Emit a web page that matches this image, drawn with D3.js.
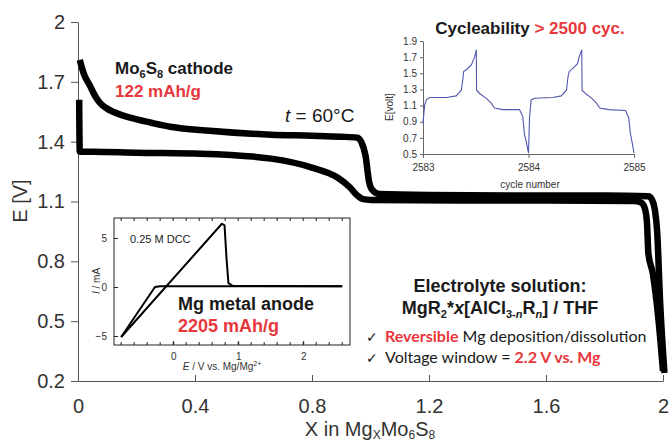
<!DOCTYPE html>
<html>
<head>
<meta charset="utf-8">
<script src="https://cdn.jsdelivr.net/npm/d3@7"></script>
<style>
  body { margin: 0; background: #fff; }
  svg { display: block; }
</style>
</head>
<body>
<div id="chart"></div>
<script>
// main plot: E [V] vs x in MgxMo6S8
var upperCurve = [[0.006,1.81],[0.02,1.74],[0.041,1.68],[0.06,1.625],[0.075,1.595],[0.095,1.57],[0.12,1.55],
    [0.15,1.533],[0.178,1.52],[0.25,1.495],[0.315,1.475],[0.45,1.455],[0.66,1.435],[0.8,1.43],[0.9,1.425],
    [0.955,1.42],[0.968,1.40],[0.983,1.33],[0.995,1.2],[1.005,1.16],[1.03,1.137],[1.2,1.132],[1.5,1.13],
    [1.8,1.13],[1.95,1.126],[1.962,1.11],[1.972,1.06],[1.98,0.95],[1.99,0.6],[2.005,0.24]];
var lowerCurve = [[0.004,1.61],[0.006,1.35],[0.05,1.35],[0.2,1.345],[0.42,1.34],[0.66,1.315],[0.8,1.27],
    [0.887,1.22],[0.93,1.17],[0.955,1.13],[0.975,1.112],[1.0,1.108],[1.3,1.105],[1.6,1.105],[1.9,1.102],
    [1.925,1.095],[1.937,1.07],[1.945,1.0],[1.95,0.84],[1.965,0.74],[1.985,0.5],[2.0,0.25]];
var xTicks = [0, 0.4, 0.8, 1.2, 1.6, 2];
var yTicks = [0.2, 0.5, 0.8, 1.1, 1.4, 1.7, 2];

// cycling inset: cycle number vs E[volt]
var cycleCurve = [[2583.0,0.88],[2583.016,1.11],[2583.032,1.17],[2583.063,1.2],[2583.221,1.2],[2583.315,1.22],
    [2583.363,1.29],[2583.379,1.44],[2583.385,1.52],[2583.416,1.55],[2583.457,1.6],[2583.489,1.7],[2583.505,1.79],
    [2583.508,1.29],[2583.536,1.25],[2583.599,1.19],[2583.647,1.13],[2583.678,1.07],[2583.757,1.05],
    [2583.915,1.05],[2583.946,0.96],[2583.962,0.74],[2583.978,0.66],[2584.0,0.51],
    [2584.01,0.96],[2584.025,1.17],[2584.057,1.19],[2584.23,1.2],[2584.31,1.22],[2584.36,1.29],[2584.375,1.46],
    [2584.385,1.52],[2584.42,1.56],[2584.465,1.62],[2584.48,1.7],[2584.505,1.79],[2584.508,1.29],
    [2584.54,1.25],[2584.6,1.19],[2584.645,1.13],[2584.675,1.07],[2584.76,1.05],[2584.92,1.04],
    [2584.95,0.95],[2584.965,0.76],[2584.98,0.66],[2585.0,0.51]];
var cycleXTicks = [2583, 2584, 2585];
var cycleYTicks = [0.5, 0.7, 0.9, 1.1, 1.3, 1.5, 1.7, 1.9];

// CV inset: E / V vs I / mA
var cvPeakBranch = [[-0.8,-5.1],[0.75,6.45],[0.79,6.3],[0.82,3.0],[0.85,0.4],[0.92,0.1],[2.6,0.08]];
var cvFlatBranch = [[-0.8,-5.1],[-0.28,0.0],[-0.2,0.08],[2.6,0.08]];
var cvXTicks = [0, 1, 2];
var cvYTicks = [-5, 0, 5];

var width = 669, height = 444;
var red = "#e8373b";

var svg = d3.select("#chart").append("svg")
    .attr("width", width)
    .attr("height", height)
    .style("font-family", "Liberation Sans, Arial, sans-serif");

// ---------- main axes ----------
var x = d3.scaleLinear().domain([0, 2]).range([78, 663]);
var y = d3.scaleLinear().domain([0.2, 2]).range([381, 22]);

var yAxis = svg.append("g")
    .attr("transform", "translate(78,0)")
    .call(d3.axisLeft(y).tickValues(yTicks).tickSize(7).tickSizeOuter(0).tickPadding(6).tickFormat(function(d) { return String(d); }));
var xAxis = svg.append("g")
    .attr("transform", "translate(0,381)")
    .call(d3.axisBottom(x).tickValues(xTicks).tickSize(-6).tickSizeOuter(0).tickPadding(18).tickFormat(function(d) { return String(d); }));
[xAxis, yAxis].forEach(function(a) {
    a.selectAll("path,line").attr("stroke", "#555");
    a.selectAll("text").attr("fill", "#333").style("font-size", "20px");
});

svg.append("text")
    .attr("transform", "translate(27,201) rotate(-90)")
    .attr("text-anchor", "middle")
    .style("font-size", "20px").attr("fill", "#333")
    .text("E [V]");

var xl = svg.append("text")
    .attr("x", 370).attr("y", 436)
    .attr("text-anchor", "middle")
    .style("font-size", "20px").attr("fill", "#333");
xl.append("tspan").text("X in Mg");
xl.append("tspan").attr("dy", 3).style("font-size", "12px").text("X");
xl.append("tspan").attr("dy", -3).text("Mo");
xl.append("tspan").attr("dy", 3).style("font-size", "12px").text("6");
xl.append("tspan").attr("dy", -3).text("S");
xl.append("tspan").attr("dy", 3).style("font-size", "12px").text("8");

var line = d3.line()
    .x(function(d) { return x(d[0]); })
    .y(function(d) { return y(d[1]); })
    .curve(d3.curveMonotoneX);

svg.selectAll(".main-curve")
    .data([upperCurve, lowerCurve])
    .enter().append("path")
    .attr("class", "main-curve")
    .attr("d", line)
    .attr("fill", "none")
    .attr("stroke", "#000")
    .attr("stroke-width", 6.5)
    .attr("stroke-linejoin", "round");

// cathode label
var cat = svg.append("text").attr("x", 115).attr("y", 74)
    .style("font-size", "17px").style("font-weight", "bold").attr("fill", "#1a1a1a");
cat.append("tspan").text("Mo");
cat.append("tspan").attr("dy", 4).style("font-size", "11px").text("6");
cat.append("tspan").attr("dy", -4).text("S");
cat.append("tspan").attr("dy", 4).style("font-size", "11px").text("8");
cat.append("tspan").attr("dy", -4).text(" cathode");
svg.append("text").attr("x", 115).attr("y", 97)
    .style("font-size", "17px").style("font-weight", "bold").attr("fill", red)
    .text("122 mAh/g");

var temp = svg.append("text").attr("x", 285).attr("y", 122)
    .style("font-size", "19px").attr("fill", "#1a1a1a");
temp.append("tspan").style("font-style", "italic").text("t");
temp.append("tspan").text(" = 60°C");

// electrolyte text
svg.append("text").attr("x", 500).attr("y", 292).attr("text-anchor", "middle")
    .style("font-size", "18px").style("font-weight", "bold").attr("fill", "#1a1a1a")
    .text("Electrolyte solution:");
var el = svg.append("text").attr("x", 500).attr("y", 314).attr("text-anchor", "middle")
    .style("font-size", "18px").style("font-weight", "bold").attr("fill", "#1a1a1a");
el.append("tspan").text("MgR");
el.append("tspan").attr("dy", 4).style("font-size", "11px").text("2");
el.append("tspan").attr("dy", -4).text("*");
el.append("tspan").style("font-style", "italic").text("x");
el.append("tspan").text("[AlCl");
el.append("tspan").attr("dy", 4).style("font-size", "11px").text("3-");
el.append("tspan").style("font-size", "11px").style("font-style", "italic").text("n");
el.append("tspan").attr("dy", -4).text("R");
el.append("tspan").attr("dy", 4).style("font-size", "11px").style("font-style", "italic").text("n");
el.append("tspan").attr("dy", -4).text("] / THF");

var bullets = [
    [["Reversible", true], [" Mg deposition/dissolution", false]],
    [["Voltage window = ", false], ["2.2 V vs. Mg", true]]
];
bullets.forEach(function(parts, i) {
    var by = 342 + i * 21;
    svg.append("text").attr("x", 366).attr("y", by)
        .style("font-family", "DejaVu Sans").style("font-size", "14px").attr("fill", "#1a1a1a")
        .text("✓");
    var t = svg.append("text").attr("x", 385).attr("y", by)
        .style("font-family", "Lato, Noto Sans, sans-serif").style("font-size", "16px").attr("fill", "#1a1a1a");
    parts.forEach(function(p) {
        t.append("tspan").text(p[0])
            .attr("fill", p[1] ? red : "#1a1a1a")
            .style("font-weight", p[1] ? "bold" : "normal");
    });
});

// ---------- cycling inset ----------
var cx = d3.scaleLinear().domain([2583, 2585]).range([423, 634]);
var cy = d3.scaleLinear().domain([0.5, 1.9]).range([154, 41]);
var cg = svg.append("g");
cg.append("rect").attr("x", 380).attr("y", 18).attr("width", 262).attr("height", 172).attr("fill", "#fff");
var cyAxis = cg.append("g").attr("transform", "translate(423,0)")
    .call(d3.axisLeft(cy).tickValues(cycleYTicks).tickSize(3).tickSizeOuter(0).tickFormat(d3.format(".1f")));
var cxAxis = cg.append("g").attr("transform", "translate(0,154)")
    .call(d3.axisBottom(cx).tickValues(cycleXTicks).tickSize(4).tickSizeOuter(0).tickPadding(6).tickFormat(d3.format("d")));
[cxAxis, cyAxis].forEach(function(a) {
    a.selectAll("path,line").attr("stroke", "#666");
    a.selectAll("text").attr("fill", "#333").style("font-size", "10px");
});
cg.append("text").attr("transform", "translate(393,107) rotate(-90)").attr("text-anchor", "middle")
    .style("font-size", "10px").attr("fill", "#333").text("E[volt]");
cg.append("text").attr("x", 530).attr("y", 188).attr("text-anchor", "middle")
    .style("font-size", "10px").attr("fill", "#333").text("cycle number");
var ct = cg.append("text").attr("x", 530).attr("y", 34).attr("text-anchor", "middle")
    .style("font-size", "17px").style("font-weight", "bold");
ct.append("tspan").attr("fill", "#1a1a1a").text("Cycleability ");
ct.append("tspan").attr("fill", red).text("> 2500 cyc.");
cg.append("path").datum(cycleCurve)
    .attr("d", d3.line().x(function(d) { return cx(d[0]); }).y(function(d) { return cy(d[1]); }))
    .attr("fill", "none").attr("stroke", "#5257ad").attr("stroke-width", 1.1);

// ---------- CV inset ----------
var vx = d3.scaleLinear().domain([-0.91, 2.72]).range([114, 350]);
var vy = d3.scaleLinear().domain([-5.92, 7.04]).range([345, 218]);
var vg = svg.append("g");
vg.append("rect").attr("x", 114).attr("y", 218).attr("width", 236).attr("height", 127)
    .attr("fill", "#fff").attr("stroke", "#222").attr("stroke-width", 1);
var minorX = d3.range(-0.8, 2.65, 0.2);
vg.selectAll(".tx").data(minorX).enter().append("line")
    .attr("x1", function(d) { return vx(d); }).attr("x2", function(d) { return vx(d); })
    .attr("y1", 218).attr("y2", 221).attr("stroke", "#222");
vg.selectAll(".bx").data(minorX).enter().append("line")
    .attr("x1", function(d) { return vx(d); }).attr("x2", function(d) { return vx(d); })
    .attr("y1", 345).attr("y2", 342).attr("stroke", "#222");
var vxAxis = vg.append("g").attr("transform", "translate(0,345)")
    .call(d3.axisBottom(vx).tickValues(cvXTicks).tickSize(-4).tickSizeOuter(0).tickPadding(8).tickFormat(d3.format("d")));
var vyAxis = vg.append("g").attr("transform", "translate(114,0)")
    .call(d3.axisLeft(vy).tickValues(cvYTicks).tickSize(-4).tickSizeOuter(0).tickPadding(7).tickFormat(d3.format("d")));
[vxAxis, vyAxis].forEach(function(a) {
    a.select(".domain").remove();
    a.selectAll("line").attr("stroke", "#222");
    a.selectAll("text").attr("fill", "#333").style("font-size", "10px");
});
var il = vg.append("text").attr("transform", "translate(100,281) rotate(-90)").attr("text-anchor", "middle")
    .style("font-size", "10px").attr("fill", "#333");
il.append("tspan").style("font-style", "italic").text("I");
il.append("tspan").text(" / mA");
var el2 = vg.append("text").attr("x", 222).attr("y", 370).attr("text-anchor", "middle")
    .style("font-size", "10px").attr("fill", "#333");
el2.append("tspan").style("font-style", "italic").text("E");
el2.append("tspan").text(" / V vs. Mg/Mg");
el2.append("tspan").attr("dy", -4).style("font-size", "7px").text("2+");
vg.append("text").attr("x", 130).attr("y", 243).style("font-size", "11px").attr("fill", "#222").text("0.25 M DCC");
var cvLine = d3.line().x(function(d) { return vx(d[0]); }).y(function(d) { return vy(d[1]); });
vg.selectAll(".cv").data([cvPeakBranch, cvFlatBranch]).enter().append("path")
    .attr("d", cvLine).attr("fill", "none").attr("stroke", "#000").attr("stroke-width", 2)
    .attr("stroke-linejoin", "round");
vg.append("text").attr("x", 178).attr("y", 310)
    .style("font-size", "18px").style("font-weight", "bold").attr("fill", "#1a1a1a").text("Mg metal anode");
vg.append("text").attr("x", 178).attr("y", 332)
    .style("font-size", "18px").style("font-weight", "bold").attr("fill", red).text("2205 mAh/g");
</script>
</body>
</html>
